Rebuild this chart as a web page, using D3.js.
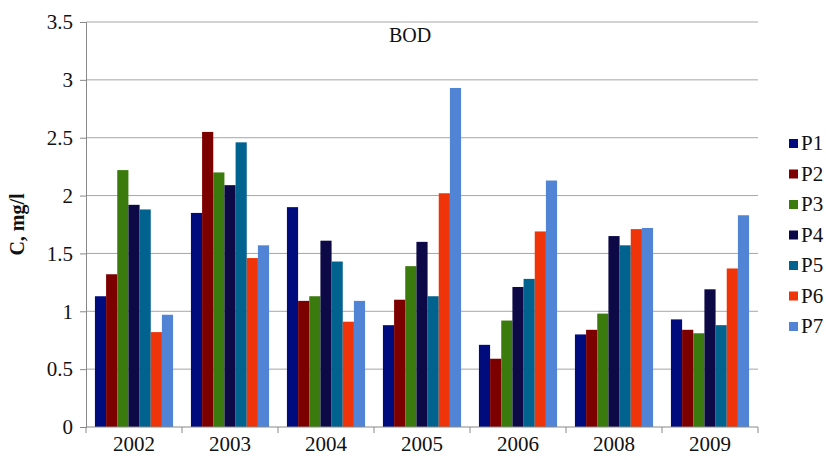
<!DOCTYPE html>
<html>
<head>
<meta charset="utf-8">
<script src="https://cdn.jsdelivr.net/npm/d3@7"></script>
<style>
  body { margin: 0; background: #fff; }
</style>
</head>
<body>
<div id="chart"></div>
<script>
// Years on the x axis
let years = ["2002", "2003", "2004", "2005", "2006", "2008", "2009"]
// Sampling points
let points = ["P1", "P2", "P3", "P4", "P5", "P6", "P7"]
// BOD values per point, one number per year
let p1 = [1.13, 1.85, 1.90, 0.88, 0.71, 0.80, 0.93]
let p2 = [1.32, 2.55, 1.09, 1.10, 0.59, 0.84, 0.84]
let p3 = [2.22, 2.20, 1.13, 1.39, 0.92, 0.98, 0.81]
let p4 = [1.92, 2.09, 1.61, 1.60, 1.21, 1.65, 1.19]
let p5 = [1.88, 2.46, 1.43, 1.13, 1.28, 1.57, 0.88]
let p6 = [0.82, 1.46, 0.91, 2.02, 1.69, 1.71, 1.37]
let p7 = [0.97, 1.57, 1.09, 2.93, 2.13, 1.72, 1.83]
let yTicks = [0, 0.5, 1, 1.5, 2, 2.5, 3, 3.5]

let colors = ["#000c7e", "#7c0000", "#3b7a0c", "#0c0946", "#00628f", "#ee3408", "#5284d6"]
let series = [p1, p2, p3, p4, p5, p6, p7]

let serif = "'Liberation Serif', 'Times New Roman', 'DejaVu Serif', serif"

let width = 826
let height = 460
let margin = {left: 86, right: 68, top: 22, bottom: 33}

const svg = d3.select("#chart")
            .append("svg")
            .attr("width", width)
            .attr("height", height)
            .style("font-family", serif)

let x0 = d3.scaleBand()
           .domain(years)
           .range([margin.left, width - margin.right])

let x1 = d3.scaleBand()
           .domain(points)
           .range([0, x0.bandwidth()])
           .paddingOuter(0.8)

let y = d3.scaleLinear()
          .domain([0, 3.5])
          .range([height - margin.bottom, margin.top])

// Gridlines
svg.append("g")
   .selectAll("line")
   .data(yTicks.slice(1))
   .enter()
   .append("line")
   .attr("x1", margin.left)
   .attr("x2", width - margin.right)
   .attr("y1", d => y(d))
   .attr("y2", d => y(d))
   .attr("stroke", "#a6a6a6")
   .attr("stroke-width", 1)

// Bars
let groups = svg.append("g")
   .selectAll("g")
   .data(years)
   .enter()
   .append("g")
   .attr("transform", d => `translate(${x0(d)},0)`)

groups.selectAll("rect")
   .data((d, i) => points.map((p, j) => ({p: p, v: series[j][i], c: colors[j]})))
   .enter()
   .append("rect")
   .attr("x", d => x1(d.p))
   .attr("width", x1.bandwidth())
   .attr("y", d => y(d.v))
   .attr("height", d => y(0) - y(d.v))
   .attr("fill", d => d.c)

// Y axis
const yAxis = d3.axisLeft(y).tickValues(yTicks).tickSize(6).tickPadding(7).tickFormat(d3.format("~g"))
let ya = svg.append("g")
   .attr("transform", `translate(${margin.left},0)`)
   .call(yAxis)
   .attr("font-family", null)
   .attr("font-size", null)
ya.select(".domain").attr("stroke", "#888")
ya.selectAll(".tick line").attr("stroke", "#888")
ya.selectAll("text")
  .style("font-family", serif)
  .style("font-size", "21px")
  .attr("fill", "#111")

// X axis with ticks on the category boundaries
let xa = svg.append("g")
   .attr("transform", `translate(0,${y(0)})`)
xa.append("line")
  .attr("x1", margin.left).attr("x2", width - margin.right)
  .attr("stroke", "#888")
xa.selectAll(".sep")
  .data(years.concat(["end"]))
  .enter()
  .append("line")
  .attr("x1", (d, i) => i < years.length ? x0(d) : x0(years[years.length - 1]) + x0.bandwidth())
  .attr("x2", (d, i) => i < years.length ? x0(d) : x0(years[years.length - 1]) + x0.bandwidth())
  .attr("y1", 0).attr("y2", 6)
  .attr("stroke", "#888")
xa.selectAll("text")
  .data(years)
  .enter()
  .append("text")
  .attr("x", d => x0(d) + x0.bandwidth() / 2)
  .attr("y", 24)
  .attr("text-anchor", "middle")
  .style("font-family", serif)
  .style("font-size", "21px")
  .attr("fill", "#111")
  .text(d => d)

// Title
svg.append("text")
   .attr("x", 410)
   .attr("y", 42)
   .attr("text-anchor", "middle")
   .style("font-family", serif)
   .style("font-size", "20px")
   .attr("fill", "#111")
   .text("BOD")

// Y axis title
svg.append("text")
   .attr("transform", `translate(24,${y(1.75)}) rotate(-90)`)
   .attr("text-anchor", "middle")
   .style("font-family", serif)
   .style("font-size", "20px")
   .style("font-weight", "bold")
   .attr("fill", "#111")
   .text("C, mg/l")

// Legend
let legend = svg.append("g")
   .attr("transform", "translate(789,143)")

let items = legend.selectAll("g")
   .data(points)
   .enter()
   .append("g")
   .attr("transform", (d, i) => `translate(0,${i * 30.5})`)

items.append("rect")
   .attr("x", 0).attr("y", -4)
   .attr("width", 9).attr("height", 9)
   .attr("fill", (d, i) => colors[i])

items.append("text")
   .attr("x", 12)
   .attr("y", 7)
   .style("font-family", serif)
   .style("font-size", "21px")
   .attr("fill", "#111")
   .text(d => d)
</script>
</body>
</html>
